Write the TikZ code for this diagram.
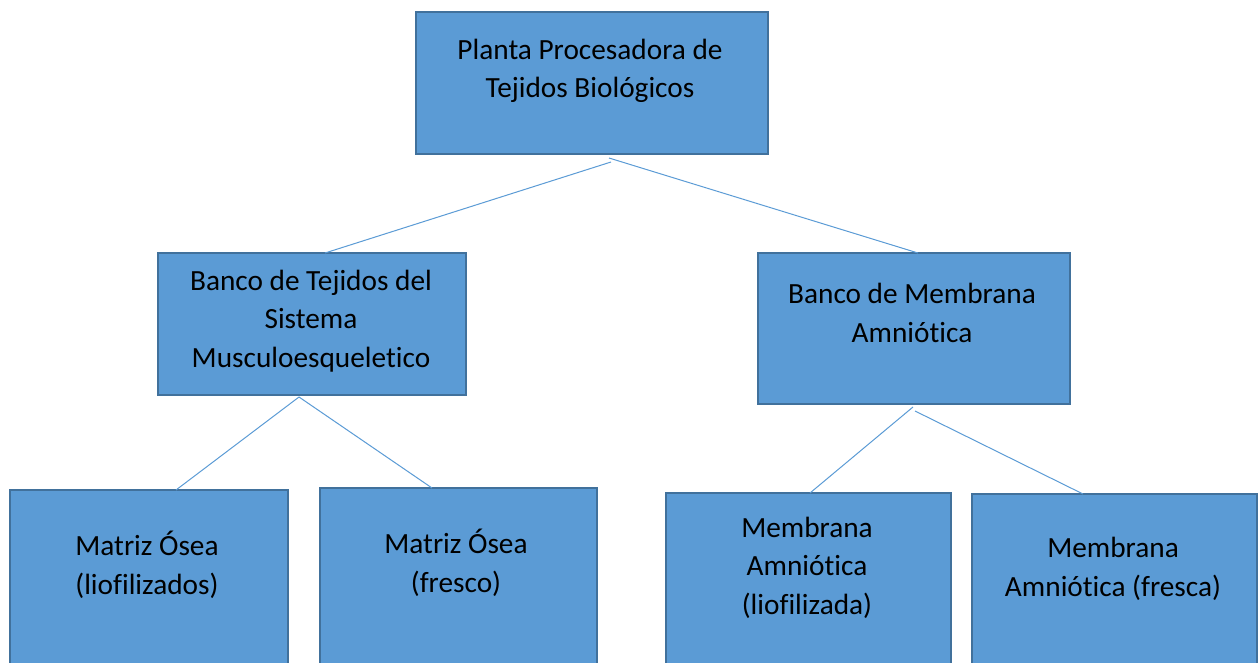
\documentclass[tikz,border=0pt]{standalone}
\usepackage{fontspec}
\setmainfont{Carlito}[Ligatures=NoCommon]
\usetikzlibrary{calc}
\definecolor{boxfill}{HTML}{5B9BD5}
\definecolor{boxline}{HTML}{41719C}
\definecolor{conn}{HTML}{5B9BD5}
\tikzset{
  orgbox/.style={draw=boxline, fill=boxfill, line width=2pt, rectangle, anchor=north west, inner sep=0pt, outer sep=0pt},
  lbl/.style={anchor=base, align=center, inner sep=0pt, font=\fontsize{29.3}{38.5}\selectfont, text=black},
  link/.style={draw=conn, line width=1pt}
}
\begin{document}
\begin{tikzpicture}[x=1pt,y=-1pt]
\useasboundingbox (0,0) rectangle (1258,663);
\clip (0,0) rectangle (1258,663);
% boxes
\node[orgbox, minimum width=352pt, minimum height=142pt] (top) at (416,12) {};
\node[orgbox, minimum width=308pt, minimum height=142pt] (midL) at (158,253) {};
\node[orgbox, minimum width=312pt, minimum height=151pt] (midR) at (758,253) {};
\node[orgbox, minimum width=278pt, minimum height=220pt] (b1) at (10,490) {};
\node[orgbox, minimum width=277pt, minimum height=220pt] (b2) at (320,488) {};
\node[orgbox, minimum width=285pt, minimum height=220pt] (b3) at (666,493) {};
\node[orgbox, minimum width=285pt, minimum height=220pt] (b4) at (972,494) {};
% texts (anchor = baseline of last line)
\node[lbl] (ttop) at (590,98) {Planta Procesadora de\\Tejidos Biológicos};
\node[lbl] (tmidL) at (311,367) {Banco de Tejidos del\\Sistema\\Musculoesqueletico};
\node[lbl] (tmidR) at (912,342) {Banco de Membrana\\Amniótica};
\node[lbl] (tb1) at (147,594) {Matriz Ósea\\(liofilizados)};
\node[lbl] (tb2) at (456,592) {Matriz Ósea\\(fresco)};
\node[lbl] (tb3) at (807,614) {Membrana\\Amniótica\\(liofilizada)};
\node[lbl] (tb4) at (1113,596) {Membrana\\Amniótica (fresca)};
% connectors
\draw[link] ($(top.south)+(19,8)$) -- ($(midL.north west)+(167,0)$);
\draw[link] ($(top.south)+(17,4)$) -- ($(midR.north west)+(160,0)$);
\draw[link] ($(midL.south)+(-13,2)$) -- ($(b1.north west)+(166,0)$);
\draw[link] ($(midL.south)+(-13,2)$) -- ($(b2.north west)+(112,0)$);
\draw[link] ($(midR.south)+(-1,3)$) -- ($(b3.north west)+(144,0)$);
\draw[link] ($(midR.south)+(1,7)$) -- ($(b4.north west)+(111,0)$);
\end{tikzpicture}
\end{document}
